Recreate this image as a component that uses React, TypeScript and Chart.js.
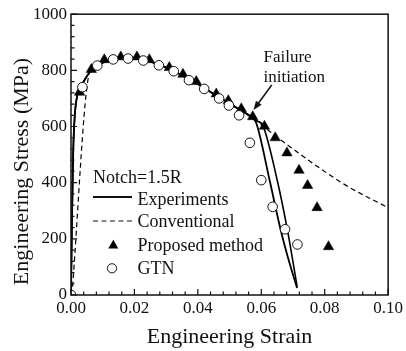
import React, { useEffect, useRef } from "react";
import { Chart, registerables } from "chart.js";

Chart.register(...registerables);

const FONT = '"Liberation Serif", "Times New Roman", serif';

// Experiments – specimen 1
const exp1Strain = [0, 0.0003, 0.0007, 0.0012, 0.002, 0.003, 0.0045, 0.006, 0.008, 0.011, 0.015, 0.019, 0.023, 0.027, 0.031, 0.035, 0.039, 0.043, 0.047, 0.051, 0.055, 0.0575, 0.0585, 0.0627, 0.0662, 0.069, 0.0713];
const exp1Stress = [0, 260, 513, 640, 712, 738, 770, 795, 815, 832, 843, 846, 839, 823, 805, 782, 758, 730, 702, 675, 648, 628, 610, 405, 228, 110, 25];
// Experiments – specimen 2
const exp2Strain = [0, 0.0003, 0.0007, 0.0012, 0.002, 0.003, 0.0045, 0.006, 0.008, 0.011, 0.015, 0.019, 0.023, 0.027, 0.031, 0.035, 0.039, 0.043, 0.047, 0.051, 0.055, 0.0575, 0.059, 0.0605, 0.0651, 0.0683, 0.0713];
const exp2Stress = [0, 260, 513, 640, 712, 738, 770, 795, 815, 832, 843, 846, 839, 823, 805, 782, 758, 730, 702, 675, 648, 628, 618, 604, 405, 228, 30];
// Conventional
const convStrain = [0.0003, 0.0058, 0.008, 0.011, 0.015, 0.019, 0.023, 0.027, 0.031, 0.035, 0.039, 0.043, 0.047, 0.051, 0.055, 0.0575, 0.0664, 0.0862, 0.1];
const convStress = [0, 790, 815, 832, 843, 846, 839, 823, 805, 782, 758, 730, 702, 675, 648, 628, 550, 394, 311];
// Proposed method
const propStrain = [0.0027, 0.0064, 0.0105, 0.0157, 0.0208, 0.0247, 0.031, 0.0353, 0.0395, 0.0458, 0.0496, 0.0537, 0.0573, 0.061, 0.0644, 0.0681, 0.0719, 0.0746, 0.0776, 0.0812];
const propStress = [722, 803, 838, 848, 848, 838, 810, 786, 760, 716, 692, 663, 635, 601, 560, 506, 444, 390, 311, 172];
// GTN
const gtnStrain = [0, 0.0036, 0.0083, 0.0133, 0.018, 0.0228, 0.0277, 0.0324, 0.0372, 0.042, 0.0467, 0.0498, 0.053, 0.0564, 0.06, 0.0636, 0.0675, 0.0714];
const gtnStress = [0, 740, 817, 839, 842, 835, 818, 797, 765, 734, 700, 675, 640, 542, 409, 314, 234, 180];

const xMajor = [0, 0.02, 0.04, 0.06, 0.08, 0.1];
const xMinorStep = 0.004;
const yMajor = [0, 200, 400, 600, 800, 1000];
const yMinorStep = 40;

const legendTitle = "Notch=1.5R";
const legendLabels = ["Experiments", "Conventional", "Proposed method", "GTN"];
const noteLines = ["Failure", "initiation"];
const xTitle = "Engineering Strain";
const yTitle = "Engineering Stress (MPa)";

const pts = (xs: number[], ys: number[]) => xs.map((x, i) => ({ x, y: ys[i] }));

const decorPlugin = {
  id: "decor",
  afterDraw(chart: any) {
    const { ctx, chartArea: a, scales } = chart;
    const xs = scales.x;
    const ys = scales.y;
    ctx.save();
    // frame
    ctx.strokeStyle = "#111";
    ctx.lineWidth = 1.5;
    ctx.strokeRect(a.left, a.top, a.right - a.left, a.bottom - a.top);
    // inward ticks
    ctx.lineWidth = 1.2;
    ctx.beginPath();
    for (let i = 0; i <= 25; i++) {
      const v = i * xMinorStep;
      const px = xs.getPixelForValue(v);
      const major = xMajor.some((m) => Math.abs(m - v) < 1e-9);
      ctx.moveTo(px, a.bottom);
      ctx.lineTo(px, a.bottom - (major ? 6 : 3.5));
    }
    for (let i = 0; i <= 25; i++) {
      const v = i * yMinorStep;
      const py = ys.getPixelForValue(v);
      const major = yMajor.some((m) => Math.abs(m - v) < 1e-9);
      ctx.moveTo(a.left, py);
      ctx.lineTo(a.left + (major ? 6 : 3.5), py);
    }
    ctx.stroke();

    // axis titles
    ctx.fillStyle = "#111";
    ctx.font = `22px ${FONT}`;
    ctx.textAlign = "center";
    ctx.textBaseline = "alphabetic";
    ctx.fillText(xTitle, (a.left + a.right) / 2, 343);
    ctx.save();
    ctx.translate(28, 171.5);
    ctx.rotate(-Math.PI / 2);
    ctx.fillText(yTitle, 0, 0);
    ctx.restore();

    // legend
    ctx.font = `18px ${FONT}`;
    ctx.textAlign = "left";
    ctx.fillText(legendTitle, 93, 183.3);
    const tx = 137.5;
    const baselines = [205, 227.3, 250.7, 274];
    legendLabels.forEach((t, i) => ctx.fillText(t, tx, baselines[i]));
    ctx.strokeStyle = "#111";
    ctx.lineWidth = 1.8;
    ctx.beginPath();
    ctx.moveTo(93, 197);
    ctx.lineTo(132, 197);
    ctx.stroke();
    ctx.lineWidth = 1.2;
    ctx.setLineDash([5, 3.5]);
    ctx.beginPath();
    ctx.moveTo(93, 221);
    ctx.lineTo(135, 221);
    ctx.stroke();
    ctx.setLineDash([]);
    // triangle
    const r = 5.8;
    ctx.beginPath();
    ctx.moveTo(113.3, 245.5 - r);
    ctx.lineTo(113.3 + r * 0.866, 245.5 + r / 2);
    ctx.lineTo(113.3 - r * 0.866, 245.5 + r / 2);
    ctx.closePath();
    ctx.fillStyle = "#000";
    ctx.fill();
    // circle
    ctx.beginPath();
    ctx.arc(112, 268.3, 4.6, 0, Math.PI * 2);
    ctx.fillStyle = "#fff";
    ctx.fill();
    ctx.lineWidth = 1;
    ctx.strokeStyle = "#111";
    ctx.stroke();

    // annotation
    ctx.fillStyle = "#111";
    ctx.font = `17px ${FONT}`;
    ctx.fillText(noteLines[0], 263.5, 61.7);
    ctx.fillText(noteLines[1], 263.5, 81.7);
    const x1 = 271.7, y1 = 85, x2 = 253.5, y2 = 110;
    ctx.lineWidth = 1.5;
    ctx.beginPath();
    ctx.moveTo(x1, y1);
    ctx.lineTo(x2 + (x1 - x2) * 0.25, y2 + (y1 - y2) * 0.25);
    ctx.stroke();
    const ang = Math.atan2(y2 - y1, x2 - x1);
    const L = 9, W = 3.5;
    ctx.beginPath();
    ctx.moveTo(x2, y2);
    ctx.lineTo(x2 - L * Math.cos(ang) + W * Math.sin(ang), y2 - L * Math.sin(ang) - W * Math.cos(ang));
    ctx.lineTo(x2 - L * Math.cos(ang) - W * Math.sin(ang), y2 - L * Math.sin(ang) + W * Math.cos(ang));
    ctx.closePath();
    ctx.fill();
    ctx.restore();
  },
};

export default function App() {
  const ref = useRef<HTMLCanvasElement | null>(null);
  useEffect(() => {
    if (!ref.current) return;
    const lineBase = {
      showLine: true,
      pointRadius: 0,
      borderColor: "#000",
      cubicInterpolationMode: "monotone",
    };
    const chart = new Chart(ref.current, {
      type: "scatter",
      data: {
        datasets: [
          {
            label: "GTN",
            data: pts(gtnStrain, gtnStress),
            showLine: false,
            pointStyle: "circle",
            pointRadius: 4.8,
            pointBackgroundColor: "#fff",
            pointBorderColor: "#111",
            pointBorderWidth: 1,
            order: 0,
          },
          {
            label: "Proposed method",
            data: pts(propStrain, propStress),
            showLine: false,
            pointStyle: "triangle",
            pointRadius: 6,
            pointBackgroundColor: "#000",
            pointBorderColor: "#000",
            pointBorderWidth: 0.5,
            order: 1,
          },
          {
            ...lineBase,
            label: "Experiments",
            data: pts(exp1Strain, exp1Stress),
            borderWidth: 1.8,
            order: 2,
          },
          {
            ...lineBase,
            label: "Experiments 2",
            data: pts(exp2Strain, exp2Stress),
            borderWidth: 1.6,
            order: 3,
          },
          {
            ...lineBase,
            label: "Conventional",
            data: pts(convStrain, convStress),
            borderWidth: 1.2,
            borderDash: [5, 3.5],
            order: 4,
          },
        ],
      },
      options: {
        responsive: false,
        animation: false,
        devicePixelRatio: 1,
        layout: { padding: { top: 12, right: 15, left: 0, bottom: 0 } },
        plugins: { legend: { display: false }, tooltip: { enabled: false } },
        scales: {
          x: {
            type: "linear",
            min: 0,
            max: 0.1,
            afterBuildTicks: (s: any) => {
              s.ticks = xMajor.map((v) => ({ value: v }));
            },
            afterFit: (s: any) => {
              s.height = 56;
            },
            ticks: {
              callback: (v: any) => Number(v).toFixed(2),
              font: { family: FONT, size: 17 },
              color: "#111",
              padding: 3,
              maxRotation: 0,
            },
            grid: { display: false, drawTicks: false },
            border: { display: false },
          },
          y: {
            type: "linear",
            min: 0,
            max: 1000,
            afterBuildTicks: (s: any) => {
              s.ticks = yMajor.map((v) => ({ value: v }));
            },
            afterFit: (s: any) => {
              s.width = 71;
            },
            ticks: {
              callback: (v: any) => String(v),
              font: { family: FONT, size: 17 },
              color: "#111",
              padding: 4,
            },
            grid: { display: false, drawTicks: false },
            border: { display: false },
          },
        },
      },
      plugins: [decorPlugin],
    } as any);
    return () => chart.destroy();
  }, []);
  return (
    <div style={{ position: "fixed", left: 0, top: 0, width: 406, height: 351, background: "#fff" }}>
      <canvas ref={ref} width={406} height={351} style={{ width: 406, height: 351 }} />
    </div>
  );
}
